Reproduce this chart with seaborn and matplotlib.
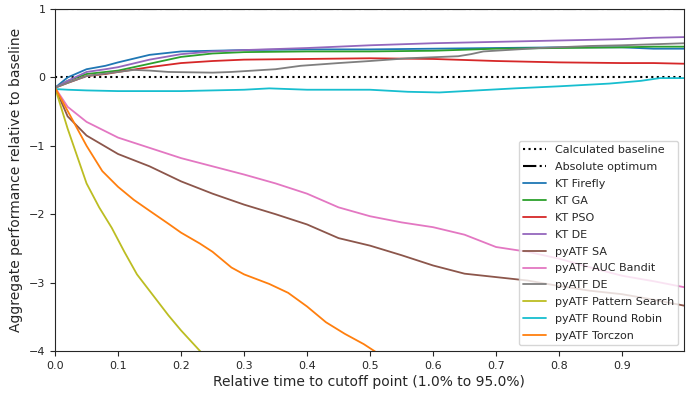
import numpy as np
import pandas as pd
import matplotlib
matplotlib.use("Agg")
import matplotlib.pyplot as plt
import seaborn as sns

# ---- data ----
x_slow = [0, 0.02, 0.05, 0.08, 0.1, 0.15, 0.2, 0.25, 0.3, 0.4, 0.5, 0.6, 0.7, 0.8, 0.9, 0.95, 1.0]
kt_firefly = [-0.15, 0.0, 0.12, 0.17, 0.22, 0.33, 0.38, 0.39, 0.40, 0.41, 0.41, 0.42, 0.43, 0.44, 0.44, 0.42, 0.42]
kt_ga = [-0.15, -0.05, 0.05, 0.08, 0.10, 0.20, 0.30, 0.35, 0.37, 0.38, 0.38, 0.39, 0.42, 0.43, 0.44, 0.45, 0.45]
kt_pso = [-0.15, -0.08, 0.02, 0.05, 0.08, 0.15, 0.21, 0.24, 0.26, 0.27, 0.28, 0.27, 0.24, 0.22, 0.21, 0.21, 0.20]
kt_de = [-0.15, -0.05, 0.08, 0.12, 0.15, 0.26, 0.34, 0.38, 0.40, 0.43, 0.47, 0.50, 0.52, 0.54, 0.56, 0.58, 0.59]

x_gray = [0, 0.02, 0.05, 0.1, 0.125, 0.15, 0.18, 0.25, 0.28, 0.35, 0.39, 0.45, 0.5, 0.56, 0.64, 0.66, 0.68, 0.77, 0.85, 0.9, 1.0]
pyatf_de = [-0.15, -0.08, 0.02, 0.08, 0.11, 0.10, 0.08, 0.07, 0.08, 0.12, 0.17, 0.21, 0.24, 0.28, 0.31, 0.34, 0.38, 0.43, 0.46, 0.47, 0.50]

x_rr = [0, 0.02, 0.05, 0.1, 0.2, 0.3, 0.34, 0.4, 0.5, 0.56, 0.61, 0.65, 0.73, 0.8, 0.88, 0.93, 0.96, 1.0]
pyatf_rr = [-0.17, -0.18, -0.19, -0.20, -0.20, -0.18, -0.16, -0.18, -0.18, -0.21, -0.22, -0.20, -0.16, -0.13, -0.09, -0.05, -0.01, -0.01]

x_fast = [0, 0.02, 0.05, 0.1, 0.15, 0.2, 0.25, 0.3, 0.35, 0.4, 0.45, 0.5, 0.55, 0.6, 0.65, 0.7, 0.75, 0.8, 0.85, 0.9, 0.95, 1.0]
pyatf_auc = [-0.15, -0.43, -0.65, -0.88, -1.03, -1.18, -1.30, -1.42, -1.55, -1.70, -1.90, -2.03, -2.12, -2.19, -2.30, -2.48, -2.55, -2.65, -2.78, -2.90, -2.98, -3.07]
pyatf_sa = [-0.15, -0.57, -0.85, -1.12, -1.30, -1.52, -1.70, -1.86, -2.00, -2.15, -2.35, -2.46, -2.60, -2.75, -2.87, -2.92, -2.97, -3.05, -3.12, -3.17, -3.25, -3.34]

x_ps = [0, 0.01, 0.02, 0.035, 0.05, 0.07, 0.09, 0.11, 0.13, 0.15, 0.18, 0.2, 0.23, 0.24]
pyatf_ps = [-0.15, -0.45, -0.75, -1.15, -1.55, -1.90, -2.20, -2.55, -2.88, -3.12, -3.48, -3.70, -4.00, -4.10]

x_tz = [0, 0.02, 0.05, 0.075, 0.1, 0.125, 0.15, 0.18, 0.2, 0.23, 0.25, 0.28, 0.3, 0.34, 0.37, 0.4, 0.43, 0.46, 0.49, 0.52]
pyatf_tz = [-0.15, -0.49, -1.00, -1.37, -1.60, -1.79, -1.95, -2.14, -2.27, -2.43, -2.55, -2.78, -2.88, -3.02, -3.15, -3.35, -3.58, -3.75, -3.90, -4.08]

series = [
    ("KT Firefly", x_slow, kt_firefly, "#1f77b4"),
    ("KT GA", x_slow, kt_ga, "#2ca02c"),
    ("KT PSO", x_slow, kt_pso, "#d62728"),
    ("KT DE", x_slow, kt_de, "#9467bd"),
    ("pyATF SA", x_fast, pyatf_sa, "#8c564b"),
    ("pyATF AUC Bandit", x_fast, pyatf_auc, "#e377c2"),
    ("pyATF DE", x_gray, pyatf_de, "#7f7f7f"),
    ("pyATF Pattern Search", x_ps, pyatf_ps, "#bcbd22"),
    ("pyATF Round Robin", x_rr, pyatf_rr, "#17becf"),
    ("pyATF Torczon", x_tz, pyatf_tz, "#ff7f0e"),
]

sns.set_style("ticks")
plt.rcParams['font.family'] = ['DejaVu Sans']

fig = plt.figure(figsize=(6.97, 3.93), dpi=100)
ax = fig.add_axes([0.079, 0.107, 0.902, 0.870])

ax.axhline(0, color="black", linestyle=":", linewidth=1.5, label="Calculated baseline")
ax.axhline(1, color="black", linestyle="-.", linewidth=1.5, label="Absolute optimum")

for name, xs, ys, col in series:
    df = pd.DataFrame({"x": xs, "y": ys})
    sns.lineplot(data=df, x="x", y="y", color=col, label=name, ax=ax, linewidth=1.3)

ax.set_xlim(0, 0.998)
ax.set_ylim(-4, 1)
ax.set_xticks([0.0, 0.1, 0.2, 0.3, 0.4, 0.5, 0.6, 0.7, 0.8, 0.9])
ax.set_yticks([-4, -3, -2, -1, 0, 1])
ax.set_xlabel("Relative time to cutoff point (1.0% to 95.0%)", fontsize=10, labelpad=3)
ax.set_ylabel("Aggregate performance relative to baseline", fontsize=10, labelpad=4)
ax.tick_params(labelsize=8)
ax.legend(loc="lower right", fontsize=8, labelspacing=0.62)

fig.savefig("out.png", dpi=100)
